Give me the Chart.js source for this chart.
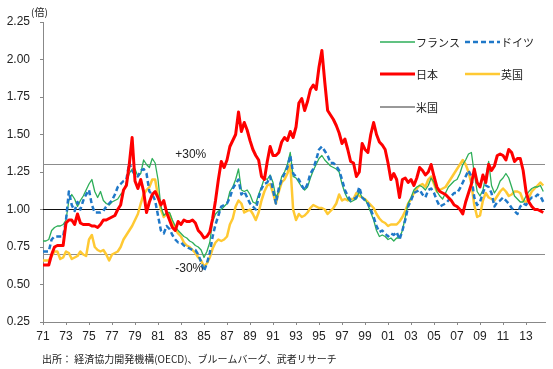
<!DOCTYPE html>
<html>
<head>
<meta charset="utf-8">
<script src="https://cdn.jsdelivr.net/npm/chart.js@4/dist/chart.umd.min.js"></script>
<style>
  html, body { margin: 0; padding: 0; background: #fff; }
  #wrap { position: relative; width: 553px; height: 369px; }
</style>
</head>
<body>
<div id="wrap"><canvas id="fxChart" width="553" height="369"></canvas></div>
<script>
// quarterly observations, 1971Q1 .. 2014Q3 (ratio, US = 1)
const periods = [];
for (let yr = 1971; yr <= 2014; yr++) {
    for (let q = 0; q < 4; q++) {
        if (yr + q / 4 <= 2014.5) periods.push(yr + q / 4);
    }
}

const japan = [
    0.63, 0.63, 0.63, 0.70,  0.75, 0.76, 0.76, 0.76,  0.91, 0.93, 0.93, 0.90,  0.97, 0.91, 0.90, 0.90,
    0.90, 0.89, 0.89, 0.88,  0.90, 0.93, 0.93, 0.94,  0.95, 0.96, 1.00, 1.03,  1.13, 1.16, 1.30, 1.48,
    1.19, 1.14, 1.20, 1.12,  0.98, 1.05, 1.10, 1.12,  1.08, 1.03, 1.06, 0.98,  0.93, 0.88, 0.86, 0.92,
    0.90, 0.93, 0.92, 0.92,  0.93, 0.91, 0.86, 0.84,  0.81, 0.82, 0.85, 0.94,  1.06, 1.20, 1.32, 1.28,
    1.33, 1.42, 1.46, 1.50,  1.65, 1.52, 1.58, 1.53,  1.46, 1.40, 1.36, 1.33,  1.22, 1.20, 1.32, 1.42,
    1.36, 1.36, 1.38, 1.45,  1.48, 1.46, 1.52, 1.48,  1.55, 1.71, 1.74, 1.66,  1.72, 1.80, 1.83, 1.80,
    1.95, 2.06, 1.85, 1.66,  1.63, 1.60, 1.56, 1.51,  1.44, 1.47, 1.40, 1.32,  1.31, 1.22, 1.25, 1.44,
    1.40, 1.38, 1.50, 1.58,  1.50, 1.45, 1.43, 1.40,  1.31, 1.20, 1.24, 1.20,  1.08, 1.20, 1.21, 1.18,
    1.20, 1.16, 1.21, 1.28,  1.26, 1.23, 1.25, 1.30,  1.22, 1.15, 1.12, 1.11,  1.10, 1.08, 1.06, 1.03,
    1.02, 1.00, 0.97, 1.05,  1.11, 1.17, 1.27, 1.18,  1.15, 1.23, 1.18, 1.30,  1.26, 1.29, 1.36, 1.37,
    1.36, 1.33, 1.40, 1.38,  1.32, 1.34, 1.34, 1.26,  1.12, 1.05, 1.02, 1.00,  1.00, 0.99, 0.98
];

const germany = [
    0.72, 0.72, 0.72, 0.80,  0.82, 0.82, 0.82, 0.82,  0.93, 1.12, 1.03, 0.99,  1.05, 1.00, 1.06, 1.10,
    1.13, 1.03, 0.98, 0.98,  0.98, 0.99, 1.02, 1.04,  1.06, 1.10, 1.15, 1.17,  1.19, 1.20, 1.31, 1.26,
    1.23, 1.22, 1.26, 1.27,  1.24, 1.12, 1.10, 1.06,  0.96, 0.86, 0.84, 0.89,  0.87, 0.83, 0.80, 0.78,
    0.78, 0.76, 0.75, 0.74,  0.73, 0.73, 0.70, 0.65,  0.59, 0.64, 0.71, 0.82,  0.90, 0.96, 1.02, 1.03,
    1.04, 1.08, 1.14, 1.17,  1.20, 1.10, 1.12, 1.08,  1.04, 1.02, 1.00, 1.08,  1.14, 1.17, 1.18, 1.22,
    1.13, 1.04, 1.14, 1.20,  1.24, 1.28, 1.36, 1.24,  1.22, 1.20, 1.16, 1.13,  1.17, 1.24, 1.27, 1.33,
    1.40, 1.42, 1.39, 1.36,  1.31, 1.31, 1.29, 1.26,  1.20, 1.13, 1.09, 1.06,  1.07, 1.08, 1.15, 1.08,
    1.06, 1.04, 1.00, 0.95,  0.89, 0.85, 0.86, 0.84,  0.82, 0.84, 0.83, 0.85,  0.80, 0.86, 0.93, 1.02,
    1.06, 1.11, 1.12, 1.13,  1.10, 1.08, 1.13, 1.14,  1.11, 1.06, 1.02, 1.03,  1.04, 1.06, 1.09, 1.11,
    1.11, 1.14, 1.18, 1.22,  1.26, 1.22, 1.08, 1.03,  1.05, 1.11, 1.16, 1.15,  1.11, 1.02, 1.05, 1.06,
    1.08, 1.06, 1.04, 1.01,  0.99, 0.97, 1.02, 1.04,  1.03, 1.06, 1.08, 1.08,  1.10, 1.09, 1.05
];

const france = [
    0.79, 0.79, 0.80, 0.86,  0.88, 0.89, 0.89, 0.90,  0.93, 1.06, 1.10, 1.07,  1.02, 1.06, 1.09, 1.13,
    1.17, 1.20, 1.12, 1.08,  1.12, 1.06, 1.04, 1.03,  1.05, 1.06, 1.07, 1.10,  1.12, 1.18, 1.24, 1.27,
    1.27, 1.22, 1.24, 1.33,  1.30, 1.28, 1.34, 1.31,  1.20, 1.02, 0.96, 0.98,  0.98, 0.93, 0.89, 0.86,
    0.84, 0.82, 0.81, 0.79,  0.78, 0.76, 0.75, 0.73,  0.68, 0.72, 0.78, 0.92,  0.97, 0.99, 1.00, 1.02,
    1.04, 1.12, 1.15, 1.20,  1.27, 1.13, 1.12, 1.13,  1.10, 1.05, 1.04, 1.10,  1.15, 1.21, 1.20, 1.23,
    1.18, 1.08, 1.12, 1.22,  1.25, 1.30, 1.38, 1.22,  1.21, 1.18, 1.15, 1.13,  1.15, 1.21, 1.26, 1.30,
    1.34, 1.36, 1.33, 1.31,  1.29, 1.28, 1.27, 1.25,  1.17, 1.11, 1.07, 1.05,  1.06, 1.07, 1.12, 1.08,
    1.07, 1.03, 0.98, 0.93,  0.86, 0.82, 0.83, 0.82,  0.80, 0.81, 0.79, 0.81,  0.81, 0.86, 0.95, 1.04,
    1.08, 1.13, 1.15, 1.16,  1.15, 1.13, 1.16, 1.21,  1.18, 1.12, 1.09, 1.07,  1.11, 1.15, 1.17, 1.19,
    1.20, 1.24, 1.30, 1.33,  1.37, 1.38, 1.24, 1.12,  1.09, 1.13, 1.22, 1.32,  1.16, 1.11, 1.14, 1.19,
    1.21, 1.24, 1.21, 1.15,  1.09, 1.07, 1.05, 1.05,  1.09, 1.12, 1.14, 1.15,  1.15, 1.16, 1.12
];

const uk = [
    0.66, 0.66, 0.66, 0.69,  0.72, 0.72, 0.67, 0.68,  0.72, 0.71, 0.67, 0.68,  0.69, 0.72, 0.70, 0.69,
    0.80, 0.83, 0.75, 0.73,  0.72, 0.73, 0.70, 0.66,  0.70, 0.71, 0.72, 0.75,  0.80, 0.83, 0.86, 0.89,
    0.93, 0.97, 1.04, 1.10,  1.13, 1.15, 1.20, 1.20,  1.09, 1.00, 0.95, 0.97,  0.97, 0.91, 0.87, 0.84,
    0.82, 0.78, 0.76, 0.75,  0.73, 0.71, 0.68, 0.66,  0.62, 0.64, 0.68, 0.74,  0.78, 0.80, 0.79, 0.80,
    0.82, 0.90, 0.94, 1.02,  1.06, 1.04, 0.98, 0.99,  1.00, 0.97, 0.93, 0.98,  1.06, 1.12, 1.16, 1.17,
    1.11, 1.04, 1.12, 1.18,  1.20, 1.24, 1.30, 1.00,  0.93, 0.97, 0.95, 0.96,  0.98, 1.01, 1.03, 1.02,
    1.01, 1.01, 1.00, 0.97,  0.99, 1.01, 1.04, 1.10,  1.06, 1.07, 1.06, 1.07,  1.07, 1.11, 1.09, 1.08,
    1.07, 1.05, 1.03, 1.01,  0.97, 0.94, 0.92, 0.91,  0.89, 0.90, 0.90, 0.90,  0.92, 0.95, 0.99, 1.04,
    1.07, 1.11, 1.14, 1.16,  1.17, 1.15, 1.20, 1.22,  1.17, 1.12, 1.13, 1.14,  1.15, 1.18, 1.21, 1.24,
    1.27, 1.30, 1.33, 1.30,  1.25, 1.17, 1.03, 0.95,  0.96, 1.06, 1.11, 1.08,  1.07, 1.06, 1.09, 1.12,
    1.14, 1.12, 1.09, 1.10,  1.12, 1.12, 1.11, 1.06,  1.05, 1.08, 1.12, 1.14,  1.16, 1.18, 1.16
];

const usLevel = 1.0;          // base line (米国)
const bandLevels = [1.3, 0.7]; // ±30% bands
const xTickYears = [1971, 1973, 1975, 1977, 1979, 1981, 1983, 1985, 1987, 1989, 1991,
                    1993, 1995, 1997, 1999, 2001, 2003, 2005, 2007, 2009, 2011, 2013];
const yTicks = [0.25, 0.5, 0.75, 1.0, 1.25, 1.5, 1.75, 2.0, 2.25];
const xMin = 1971, xMax = 2014.65;

const series = (vals) => periods.map((t, i) => ({ x: t, y: vals[i] }));
const flat = (v) => [{ x: xMin, y: v }, { x: xMax, y: v }];

const GREEN = '#2DAE58', BLUE = '#1F78C8', RED = '#FF0000', GOLD = '#FFC933';
const FONT = '"Liberation Sans", "Noto Sans CJK JP", sans-serif';
const JFONT = '"Noto Sans CJK JP", sans-serif';

// labels, legend and source note drawn on the canvas
const overlay = {
    id: 'overlay',
    afterDraw(chart) {
        const { ctx, scales: { x, y } } = chart;
        ctx.save();
        ctx.fillStyle = '#222';
        ctx.textBaseline = 'middle';
        ctx.font = '12px ' + FONT;
        ctx.fillText('+30%', x.getPixelForValue(1982.5), y.getPixelForValue(bandLevels[0]) - 10);
        ctx.fillText('-30%', x.getPixelForValue(1982.5), y.getPixelForValue(bandLevels[1]) + 14);

        ctx.font = '10px ' + JFONT;
        ctx.fillText('(倍)', 31, 12);

        const items = [
            ['フランス', GREEN, 1.5, [], 380, 42],
            ['ドイツ', BLUE, 2.5, [5, 3], 465, 42],
            ['日本', RED, 3, [], 380, 74],
            ['英国', GOLD, 2.5, [], 465, 74],
            ['米国', '#333', 1, [], 380, 107]
        ];
        ctx.font = '11px ' + JFONT;
        items.forEach(([name, col, w, dash, lx, ly]) => {
            ctx.beginPath();
            ctx.strokeStyle = col;
            ctx.lineWidth = w;
            ctx.setLineDash(dash);
            ctx.moveTo(lx, ly);
            ctx.lineTo(lx + 35, ly);
            ctx.stroke();
            ctx.setLineDash([]);
            ctx.fillStyle = '#222';
            ctx.fillText(name, lx + 36, ly + 1);
        });

        ctx.font = '10px ' + JFONT;
        ctx.fillText('出所： 経済協力開発機構(OECD)、ブルームバーグ、武者リサーチ', 42, 359);
        ctx.restore();
    }
};

const ctx = document.getElementById('fxChart').getContext('2d');
const fxChart = new Chart(ctx, {
    type: 'line',
    data: {
        datasets: [
            { label: '日本', data: series(japan), borderColor: RED, borderWidth: 3 },
            { label: 'ドイツ', data: series(germany), borderColor: BLUE, borderWidth: 2.5, borderDash: [5, 3] },
            { label: 'フランス', data: series(france), borderColor: GREEN, borderWidth: 1.3 },
            { label: '英国', data: series(uk), borderColor: GOLD, borderWidth: 2.5 },
            { label: '米国', data: flat(usLevel), borderColor: '#111', borderWidth: 1.2 },
            { label: '+30%', data: flat(bandLevels[0]), borderColor: '#8c8c8c', borderWidth: 1.2 },
            { label: '-30%', data: flat(bandLevels[1]), borderColor: '#8c8c8c', borderWidth: 1.2 }
        ]
    },
    options: {
        responsive: false,
        animation: false,
        events: [],
        layout: { padding: { top: 22, right: 8, left: 0, bottom: 0 } },
        elements: {
            point: { radius: 0 },
            line: { tension: 0, borderJoinStyle: 'round', fill: false }
        },
        plugins: {
            legend: { display: false },
            tooltip: { enabled: false }
        },
        scales: {
            x: {
                type: 'linear',
                min: xMin,
                max: xMax,
                afterBuildTicks: (s) => { s.ticks = xTickYears.map(v => ({ value: v })); },
                afterFit: (s) => { s.height = 47; },
                grid: { drawOnChartArea: false, tickLength: 3, color: '#888' },
                border: { color: '#888' },
                ticks: {
                    autoSkip: false,
                    maxRotation: 0,
                    padding: 4,
                    color: '#222',
                    font: { family: FONT, size: 12 },
                    callback: (v) => String(v).slice(2)
                }
            },
            y: {
                min: 0.25,
                max: 2.25,
                afterBuildTicks: (s) => { s.ticks = yTicks.map(v => ({ value: v })); },
                afterFit: (s) => { s.width = 43; },
                grid: { drawOnChartArea: false, tickLength: 3, color: '#888' },
                border: { color: '#888' },
                ticks: {
                    padding: 10,
                    color: '#222',
                    font: { family: FONT, size: 12 },
                    callback: (v) => v.toFixed(2)
                }
            }
        }
    },
    plugins: [overlay]
});
</script>
</body>
</html>
